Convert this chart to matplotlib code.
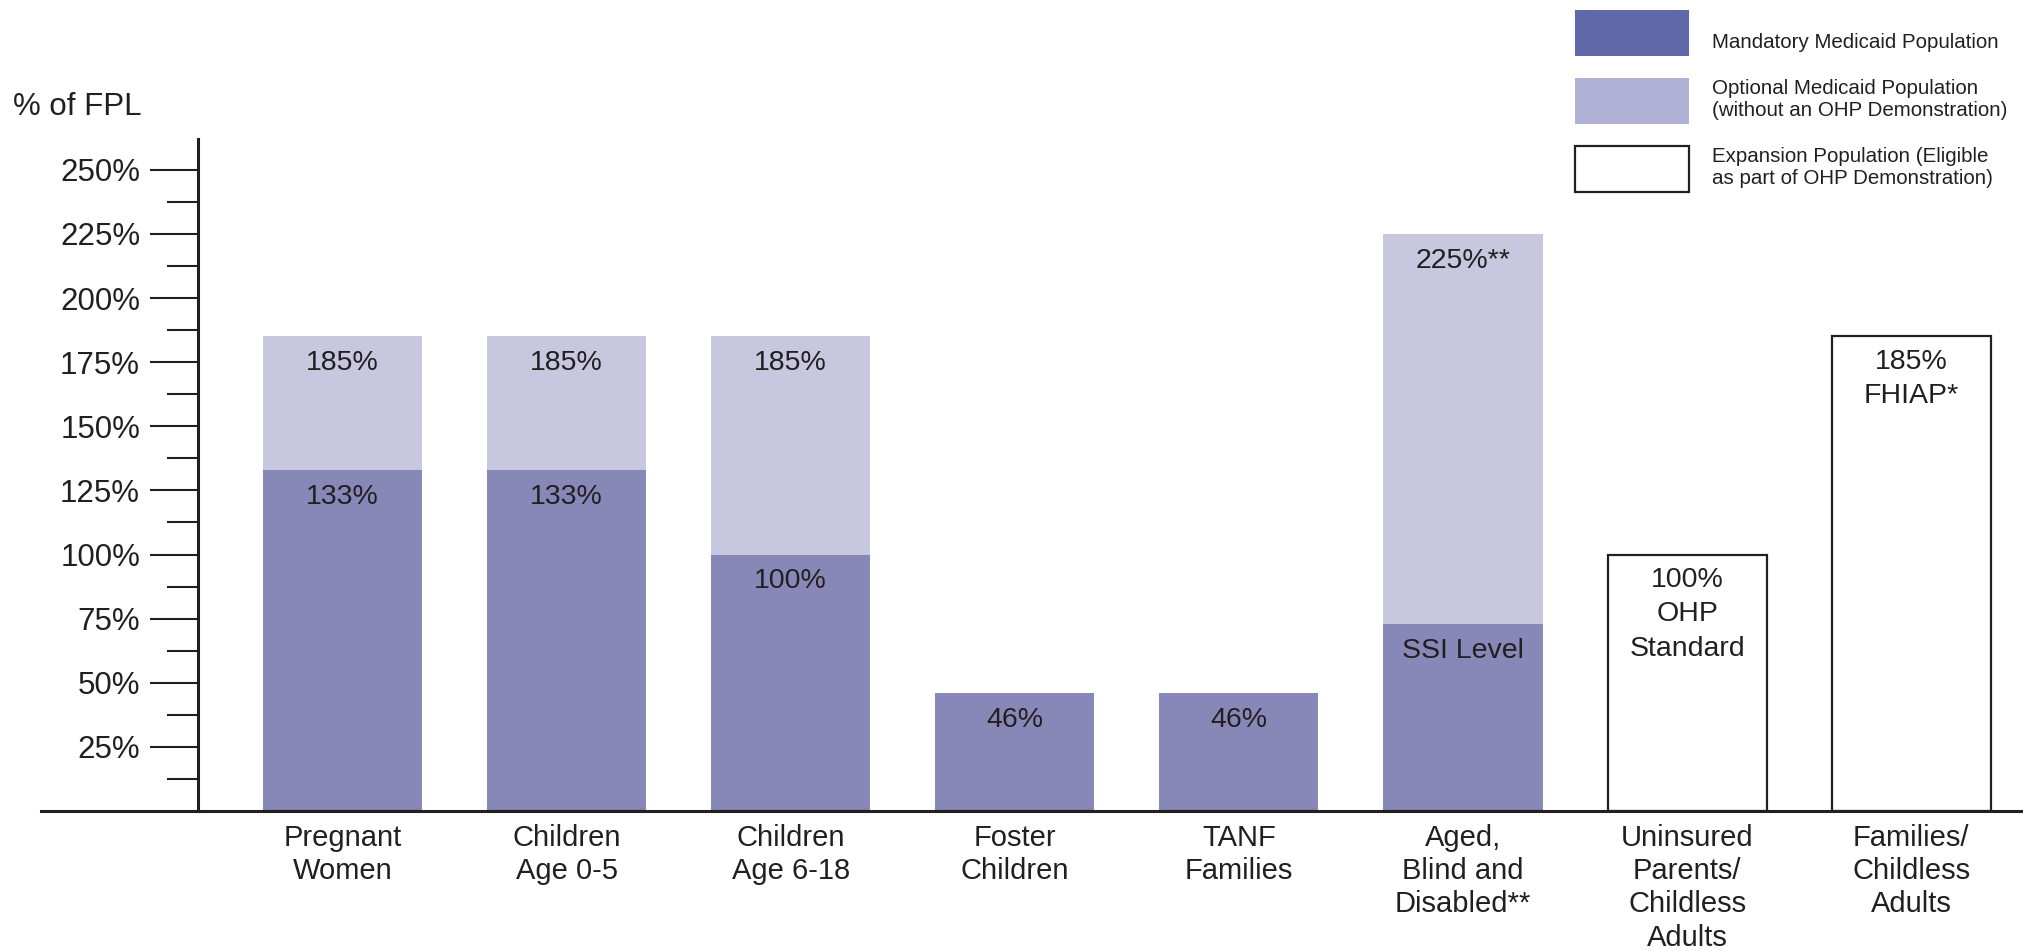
import numpy as np
import matplotlib
matplotlib.use("Agg")
from matplotlib import pyplot as plt
from matplotlib.patches import Rectangle

plt.rcParams['font.family'] = ['Liberation Sans', 'DejaVu Sans']

# Data
categories = ["Pregnant\nWomen", "Children\nAge 0-5", "Children\nAge 6-18", "Foster\nChildren",
              "TANF\nFamilies", "Aged,\nBlind and\nDisabled**", "Uninsured\nParents/\nChildless\nAdults",
              "Families/\nChildless\nAdults"]
mandatory = [133, 133, 100, 46, 46, 73, 0, 0]
optional_top = [185, 185, 185, 0, 0, 225, 0, 0]
expansion = [0, 0, 0, 0, 0, 0, 100, 185]
mandatory_labels = ["133%", "133%", "100%", "46%", "46%", "SSI Level", "", ""]
optional_labels = ["185%", "185%", "185%", "", "", "225%**", "", ""]
expansion_labels = ["", "", "", "", "", "", "100%\nOHP\nStandard", "185%\nFHIAP*"]
yticks = [25, 50, 75, 100, 125, 150, 175, 200, 225, 250]
legend_labels = ["Mandatory Medicaid Population",
                 "Optional Medicaid Population\n(without an OHP Demonstration)",
                 "Expansion Population (Eligible\nas part of OHP Demonstration)"]

dark = '#231f20'
c_mand = '#8788b8'
c_opt = '#c7c7e0'

W, H = 2024, 951
fig = plt.figure(figsize=(W / 100, H / 100), dpi=100)
ax = fig.add_axes([41 / W, 140 / H, 1 - 41 / W, 672 / H])

x = np.arange(len(categories))
mand = np.array(mandatory)
opt = np.array(optional_top)
exp_ = np.array(expansion)
width = 0.71

ax.bar(x, mand, width, color=c_mand, zorder=2)
ax.bar(x, np.where(opt > 0, opt - mand, 0), width, bottom=mand, color=c_opt, zorder=2)
ax.bar(x, exp_, width, color='white', edgecolor=dark, linewidth=1.6, zorder=2)

for i in range(len(x)):
    if mandatory_labels[i]:
        ax.annotate(mandatory_labels[i], (x[i], mand[i]), xytext=(0, -10), textcoords='offset points',
                    ha='center', va='top', fontsize=20.5, color=dark, zorder=3)
    if optional_labels[i]:
        ax.annotate(optional_labels[i], (x[i], opt[i]), xytext=(0, -10), textcoords='offset points',
                    ha='center', va='top', fontsize=20.5, color=dark, zorder=3)
    if expansion_labels[i]:
        ax.annotate(expansion_labels[i], (x[i], exp_[i]), xytext=(0, -9), textcoords='offset points',
                    ha='center', va='top', fontsize=20.5, color=dark,
                    linespacing=1.42, multialignment='center', zorder=3)

# axes layout
ax.set_xlim(-1.345, 7.503)
ax.set_ylim(0, 262)
ax.spines['top'].set_visible(False)
ax.spines['right'].set_visible(False)
ax.spines['left'].set_position(('data', -0.646))
ax.spines['left'].set_linewidth(2.2)
ax.spines['bottom'].set_linewidth(2.2)
ax.spines['left'].set_color(dark)
ax.spines['bottom'].set_color(dark)
ax.spines['left'].set_zorder(4)

ax.set_yticks(yticks)
ax.set_yticklabels([f"{v}%" for v in yticks])
ax.set_yticks(np.arange(12.5, 250, 25), minor=True)
ax.tick_params(axis='y', which='major', length=34.5, width=1.5, color=dark, pad=7,
               labelsize=22.5, labelcolor=dark)
ax.tick_params(axis='y', which='minor', length=22, width=1.5, color=dark)

ax.set_xticks(x)
ax.set_xticklabels(categories, linespacing=1.25)
ax.tick_params(axis='x', length=0, pad=9, labelsize=21, labelcolor=dark)

fig.text(13 / W, 1 - 107 / H, "% of FPL", fontsize=22.5, color=dark, va='center', ha='left')

# legend
patch_tops = [10, 78, 146]
text_centers = [42, 99.5, 167.5]
face = ['#6168a8', '#b0b0d4', 'white']
for k in range(3):
    y0 = 1 - (patch_tops[k] + 46) / H
    r = Rectangle((1575 / W, y0), 114 / W, 46 / H, transform=fig.transFigure,
                  facecolor=face[k], edgecolor=dark if k == 2 else 'none', linewidth=1.6)
    fig.patches.append(r)
    fig.text(1712 / W, 1 - text_centers[k] / H, legend_labels[k], fontsize=14.8, color=dark,
             va='center', ha='left', linespacing=1.2)

fig.savefig('out.png', dpi=100)
